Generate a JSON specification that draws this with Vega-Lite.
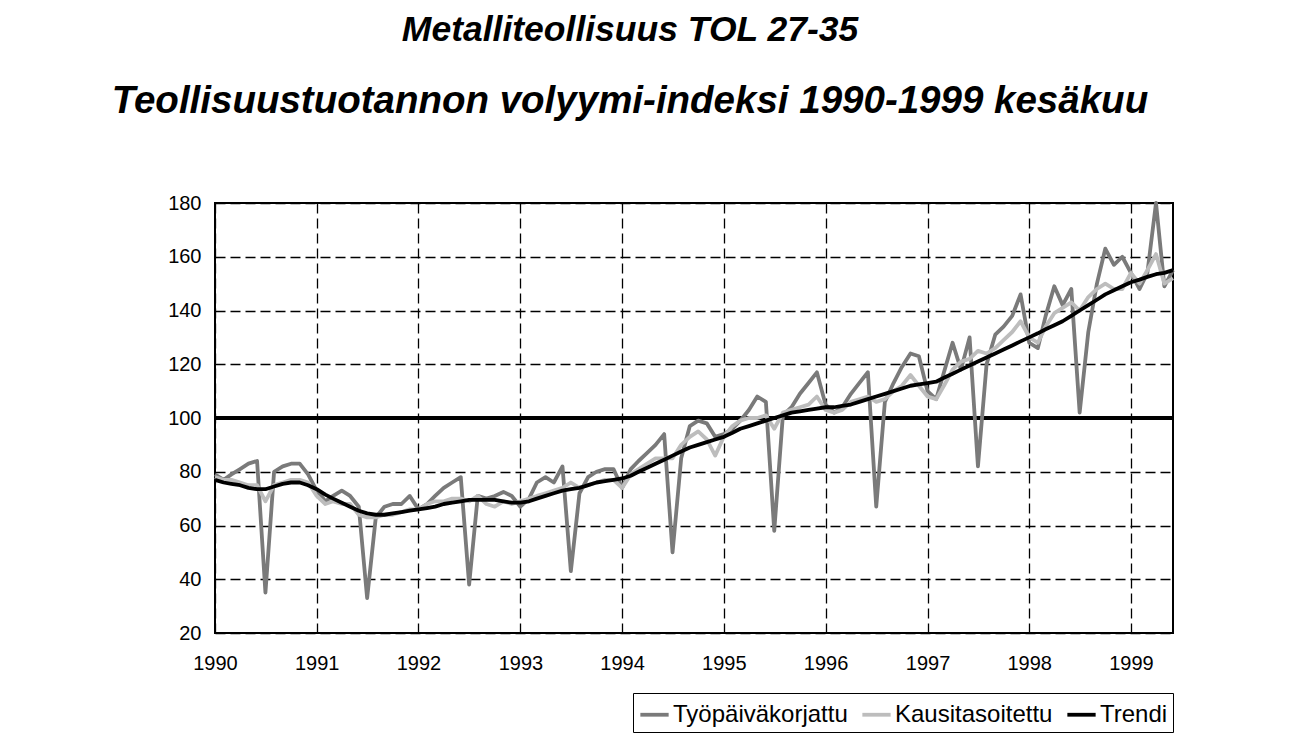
{
  "$schema": "https://vega.github.io/schema/vega-lite/v6.json",
  "width": 958,
  "height": 430,
  "autosize": {"type": "none"},
  "padding": {"left": 215, "top": 203, "right": 122, "bottom": 102},
  "background": "white",
  "title": {
    "text": "Metalliteollisuus TOL 27-35",
    "subtitle": "Teollisuustuotannon volyymi-indeksi 1990-1999 kesäkuu",
    "font": "Liberation Sans",
    "fontSize": 35.5,
    "fontWeight": "bold",
    "fontStyle": "italic",
    "subtitleFont": "Liberation Sans",
    "subtitleFontSize": 38.5,
    "subtitleFontWeight": "bold",
    "subtitleFontStyle": "italic",
    "subtitleColor": "black",
    "subtitlePadding": 34,
    "anchor": "middle",
    "dx": -64,
    "offset": 73,
    "color": "black"
  },
  "data": {
    "values": [
      {"kk": "1990-01", "Työpäiväkorjattu": 79, "Kausitasoitettu": 78, "Trendi": 77},
      {"kk": "1990-02", "Työpäiväkorjattu": 77, "Kausitasoitettu": 77, "Trendi": 76},
      {"kk": "1990-03", "Työpäiväkorjattu": 79, "Kausitasoitettu": 77, "Trendi": 75.5},
      {"kk": "1990-04", "Työpäiväkorjattu": 81, "Kausitasoitettu": 76, "Trendi": 75},
      {"kk": "1990-05", "Työpäiväkorjattu": 83, "Kausitasoitettu": 75, "Trendi": 74},
      {"kk": "1990-06", "Työpäiväkorjattu": 84, "Kausitasoitettu": 75, "Trendi": 73.5},
      {"kk": "1990-07", "Työpäiväkorjattu": 35, "Kausitasoitettu": 69, "Trendi": 73.5},
      {"kk": "1990-08", "Työpäiväkorjattu": 80, "Kausitasoitettu": 75, "Trendi": 74.5},
      {"kk": "1990-09", "Työpäiväkorjattu": 82, "Kausitasoitettu": 76, "Trendi": 75.5},
      {"kk": "1990-10", "Työpäiväkorjattu": 83, "Kausitasoitettu": 77, "Trendi": 76},
      {"kk": "1990-11", "Työpäiväkorjattu": 83, "Kausitasoitettu": 77, "Trendi": 76},
      {"kk": "1990-12", "Työpäiväkorjattu": 79, "Kausitasoitettu": 76, "Trendi": 75},
      {"kk": "1991-01", "Työpäiväkorjattu": 73, "Kausitasoitettu": 71, "Trendi": 73.5},
      {"kk": "1991-02", "Työpäiväkorjattu": 69, "Kausitasoitettu": 68, "Trendi": 71.5},
      {"kk": "1991-03", "Työpäiväkorjattu": 71, "Kausitasoitettu": 69, "Trendi": 70},
      {"kk": "1991-04", "Työpäiväkorjattu": 73, "Kausitasoitettu": 68, "Trendi": 68.5},
      {"kk": "1991-05", "Työpäiväkorjattu": 71, "Kausitasoitettu": 68, "Trendi": 67},
      {"kk": "1991-06", "Työpäiväkorjattu": 67, "Kausitasoitettu": 64, "Trendi": 65.5},
      {"kk": "1991-07", "Työpäiväkorjattu": 33, "Kausitasoitettu": 63, "Trendi": 64.5},
      {"kk": "1991-08", "Työpäiväkorjattu": 63, "Kausitasoitettu": 63, "Trendi": 64},
      {"kk": "1991-09", "Työpäiväkorjattu": 67, "Kausitasoitettu": 64, "Trendi": 64},
      {"kk": "1991-10", "Työpäiväkorjattu": 68, "Kausitasoitettu": 64, "Trendi": 64.5},
      {"kk": "1991-11", "Työpäiväkorjattu": 68, "Kausitasoitettu": 65, "Trendi": 65},
      {"kk": "1991-12", "Työpäiväkorjattu": 71, "Kausitasoitettu": 66, "Trendi": 65.5},
      {"kk": "1992-01", "Työpäiväkorjattu": 66, "Kausitasoitettu": 66, "Trendi": 66},
      {"kk": "1992-02", "Työpäiväkorjattu": 68, "Kausitasoitettu": 68, "Trendi": 66.5},
      {"kk": "1992-03", "Työpäiväkorjattu": 71, "Kausitasoitettu": 69, "Trendi": 67},
      {"kk": "1992-04", "Työpäiväkorjattu": 74, "Kausitasoitettu": 69, "Trendi": 68},
      {"kk": "1992-05", "Työpäiväkorjattu": 76, "Kausitasoitettu": 70, "Trendi": 68.5},
      {"kk": "1992-06", "Työpäiväkorjattu": 78, "Kausitasoitettu": 70, "Trendi": 69},
      {"kk": "1992-07", "Työpäiväkorjattu": 38, "Kausitasoitettu": 69, "Trendi": 69.5},
      {"kk": "1992-08", "Työpäiväkorjattu": 71, "Kausitasoitettu": 71, "Trendi": 69.5},
      {"kk": "1992-09", "Työpäiväkorjattu": 70, "Kausitasoitettu": 68, "Trendi": 69.5},
      {"kk": "1992-10", "Työpäiväkorjattu": 71, "Kausitasoitettu": 67, "Trendi": 69.5},
      {"kk": "1992-11", "Työpäiväkorjattu": 72.5, "Kausitasoitettu": 69, "Trendi": 69},
      {"kk": "1992-12", "Työpäiväkorjattu": 71, "Kausitasoitettu": 68, "Trendi": 68.5},
      {"kk": "1993-01", "Työpäiväkorjattu": 67, "Kausitasoitettu": 69, "Trendi": 68.5},
      {"kk": "1993-02", "Työpäiväkorjattu": 70, "Kausitasoitettu": 70, "Trendi": 69},
      {"kk": "1993-03", "Työpäiväkorjattu": 76, "Kausitasoitettu": 71, "Trendi": 70},
      {"kk": "1993-04", "Työpäiväkorjattu": 78, "Kausitasoitettu": 72, "Trendi": 71},
      {"kk": "1993-05", "Työpäiväkorjattu": 76, "Kausitasoitettu": 73, "Trendi": 72},
      {"kk": "1993-06", "Työpäiväkorjattu": 82, "Kausitasoitettu": 74, "Trendi": 73},
      {"kk": "1993-07", "Työpäiväkorjattu": 43, "Kausitasoitettu": 76, "Trendi": 73.5},
      {"kk": "1993-08", "Työpäiväkorjattu": 72, "Kausitasoitettu": 74, "Trendi": 74},
      {"kk": "1993-09", "Työpäiväkorjattu": 78, "Kausitasoitettu": 75, "Trendi": 75},
      {"kk": "1993-10", "Työpäiväkorjattu": 80, "Kausitasoitettu": 76, "Trendi": 76},
      {"kk": "1993-11", "Työpäiväkorjattu": 81, "Kausitasoitettu": 77, "Trendi": 76.5},
      {"kk": "1993-12", "Työpäiväkorjattu": 81, "Kausitasoitettu": 77, "Trendi": 77},
      {"kk": "1994-01", "Työpäiväkorjattu": 74, "Kausitasoitettu": 74, "Trendi": 77.5},
      {"kk": "1994-02", "Työpäiväkorjattu": 81, "Kausitasoitettu": 79, "Trendi": 78.5},
      {"kk": "1994-03", "Työpäiväkorjattu": 84, "Kausitasoitettu": 81, "Trendi": 80},
      {"kk": "1994-04", "Työpäiväkorjattu": 87, "Kausitasoitettu": 83, "Trendi": 81.5},
      {"kk": "1994-05", "Työpäiväkorjattu": 90, "Kausitasoitettu": 85, "Trendi": 83},
      {"kk": "1994-06", "Työpäiväkorjattu": 94, "Kausitasoitettu": 85, "Trendi": 84.5},
      {"kk": "1994-07", "Työpäiväkorjattu": 50, "Kausitasoitettu": 85, "Trendi": 86},
      {"kk": "1994-08", "Työpäiväkorjattu": 85, "Kausitasoitettu": 90, "Trendi": 87.5},
      {"kk": "1994-09", "Työpäiväkorjattu": 97, "Kausitasoitettu": 93, "Trendi": 89},
      {"kk": "1994-10", "Työpäiväkorjattu": 99, "Kausitasoitettu": 95, "Trendi": 90},
      {"kk": "1994-11", "Työpäiväkorjattu": 98, "Kausitasoitettu": 92, "Trendi": 91},
      {"kk": "1994-12", "Työpäiväkorjattu": 93, "Kausitasoitettu": 86, "Trendi": 92},
      {"kk": "1995-01", "Työpäiväkorjattu": 94, "Kausitasoitettu": 93, "Trendi": 93},
      {"kk": "1995-02", "Työpäiväkorjattu": 96, "Kausitasoitettu": 97, "Trendi": 94.5},
      {"kk": "1995-03", "Työpäiväkorjattu": 99, "Kausitasoitettu": 99, "Trendi": 96},
      {"kk": "1995-04", "Työpäiväkorjattu": 103, "Kausitasoitettu": 100, "Trendi": 97},
      {"kk": "1995-05", "Työpäiväkorjattu": 108, "Kausitasoitettu": 100, "Trendi": 98},
      {"kk": "1995-06", "Työpäiväkorjattu": 106, "Kausitasoitettu": 101, "Trendi": 99},
      {"kk": "1995-07", "Työpäiväkorjattu": 58, "Kausitasoitettu": 96, "Trendi": 100},
      {"kk": "1995-08", "Työpäiväkorjattu": 101, "Kausitasoitettu": 102, "Trendi": 101},
      {"kk": "1995-09", "Työpäiväkorjattu": 104, "Kausitasoitettu": 103, "Trendi": 102},
      {"kk": "1995-10", "Työpäiväkorjattu": 109, "Kausitasoitettu": 104, "Trendi": 102.5},
      {"kk": "1995-11", "Työpäiväkorjattu": 113, "Kausitasoitettu": 105, "Trendi": 103},
      {"kk": "1995-12", "Työpäiväkorjattu": 117, "Kausitasoitettu": 108, "Trendi": 103.5},
      {"kk": "1996-01", "Työpäiväkorjattu": 105, "Kausitasoitettu": 103, "Trendi": 104},
      {"kk": "1996-02", "Työpäiväkorjattu": 102, "Kausitasoitettu": 102, "Trendi": 104},
      {"kk": "1996-03", "Työpäiväkorjattu": 104, "Kausitasoitettu": 103, "Trendi": 104.5},
      {"kk": "1996-04", "Työpäiväkorjattu": 109, "Kausitasoitettu": 106, "Trendi": 105},
      {"kk": "1996-05", "Työpäiväkorjattu": 113, "Kausitasoitettu": 107, "Trendi": 106},
      {"kk": "1996-06", "Työpäiväkorjattu": 117, "Kausitasoitettu": 108, "Trendi": 107},
      {"kk": "1996-07", "Työpäiväkorjattu": 67, "Kausitasoitettu": 106, "Trendi": 108},
      {"kk": "1996-08", "Työpäiväkorjattu": 106, "Kausitasoitettu": 107, "Trendi": 109},
      {"kk": "1996-09", "Työpäiväkorjattu": 113, "Kausitasoitettu": 110, "Trendi": 110},
      {"kk": "1996-10", "Työpäiväkorjattu": 119, "Kausitasoitettu": 112, "Trendi": 111},
      {"kk": "1996-11", "Työpäiväkorjattu": 124, "Kausitasoitettu": 116, "Trendi": 112},
      {"kk": "1996-12", "Työpäiväkorjattu": 123, "Kausitasoitettu": 112, "Trendi": 112.5},
      {"kk": "1997-01", "Työpäiväkorjattu": 110, "Kausitasoitettu": 108, "Trendi": 113},
      {"kk": "1997-02", "Työpäiväkorjattu": 107, "Kausitasoitettu": 107, "Trendi": 113.5},
      {"kk": "1997-03", "Työpäiväkorjattu": 117, "Kausitasoitettu": 112, "Trendi": 115},
      {"kk": "1997-04", "Työpäiväkorjattu": 128, "Kausitasoitettu": 118, "Trendi": 116.5},
      {"kk": "1997-05", "Työpäiväkorjattu": 118, "Kausitasoitettu": 121, "Trendi": 118},
      {"kk": "1997-06", "Työpäiväkorjattu": 130, "Kausitasoitettu": 122, "Trendi": 119.5},
      {"kk": "1997-07", "Työpäiväkorjattu": 82, "Kausitasoitettu": 125, "Trendi": 121},
      {"kk": "1997-08", "Työpäiväkorjattu": 120, "Kausitasoitettu": 124, "Trendi": 122.5},
      {"kk": "1997-09", "Työpäiväkorjattu": 131, "Kausitasoitettu": 126, "Trendi": 124},
      {"kk": "1997-10", "Työpäiväkorjattu": 134, "Kausitasoitettu": 129, "Trendi": 125.5},
      {"kk": "1997-11", "Työpäiväkorjattu": 138, "Kausitasoitettu": 132, "Trendi": 127},
      {"kk": "1997-12", "Työpäiväkorjattu": 146, "Kausitasoitettu": 136, "Trendi": 128.5},
      {"kk": "1998-01", "Työpäiväkorjattu": 128, "Kausitasoitettu": 130, "Trendi": 130},
      {"kk": "1998-02", "Työpäiväkorjattu": 126, "Kausitasoitettu": 128, "Trendi": 131.5},
      {"kk": "1998-03", "Työpäiväkorjattu": 138, "Kausitasoitettu": 134, "Trendi": 133},
      {"kk": "1998-04", "Työpäiväkorjattu": 149, "Kausitasoitettu": 139, "Trendi": 134.5},
      {"kk": "1998-05", "Työpäiväkorjattu": 142, "Kausitasoitettu": 141, "Trendi": 136},
      {"kk": "1998-06", "Työpäiväkorjattu": 148, "Kausitasoitettu": 143, "Trendi": 138},
      {"kk": "1998-07", "Työpäiväkorjattu": 102, "Kausitasoitettu": 140, "Trendi": 140},
      {"kk": "1998-08", "Työpäiväkorjattu": 132, "Kausitasoitettu": 145, "Trendi": 142},
      {"kk": "1998-09", "Työpäiväkorjattu": 150, "Kausitasoitettu": 148, "Trendi": 144},
      {"kk": "1998-10", "Työpäiväkorjattu": 163, "Kausitasoitettu": 150, "Trendi": 146},
      {"kk": "1998-11", "Työpäiväkorjattu": 157, "Kausitasoitettu": 148, "Trendi": 147.5},
      {"kk": "1998-12", "Työpäiväkorjattu": 160, "Kausitasoitettu": 148, "Trendi": 149},
      {"kk": "1999-01", "Työpäiväkorjattu": 154, "Kausitasoitettu": 154, "Trendi": 150.5},
      {"kk": "1999-02", "Työpäiväkorjattu": 148, "Kausitasoitettu": 150, "Trendi": 151.5},
      {"kk": "1999-03", "Työpäiväkorjattu": 154, "Kausitasoitettu": 155, "Trendi": 152.5},
      {"kk": "1999-04", "Työpäiväkorjattu": 180, "Kausitasoitettu": 161, "Trendi": 153.5},
      {"kk": "1999-05", "Työpäiväkorjattu": 149, "Kausitasoitettu": 150, "Trendi": 154},
      {"kk": "1999-06", "Työpäiväkorjattu": 155, "Kausitasoitettu": 152, "Trendi": 155}
    ]
  },
  "transform": [
    {"fold": ["Työpäiväkorjattu", "Kausitasoitettu", "Trendi"], "as": ["sarja", "arvo"]}
  ],
  "layer": [
    {
      "mark": {"type": "rule", "color": "black", "strokeWidth": 3},
      "encoding": {"y": {"datum": 100, "type": "quantitative"}}
    },
    {
      "mark": {"type": "line", "strokeWidth": 3.8, "strokeJoin": "round"},
      "encoding": {
        "x": {
          "field": "kk",
          "type": "temporal",
          "scale": {
            "type": "utc",
            "domain": [
              {"year": 1990, "month": 1, "date": 1, "utc": true},
              {"year": 1999, "month": 6, "date": 1, "utc": true}
            ]
          },
          "axis": {
            "title": null,
            "format": "%Y",
            "tickCount": {"interval": "year", "step": 1},
            "grid": true,
            "gridDash": [10, 5],
            "gridColor": "black",
            "gridWidth": 1.3,
            "gridOpacity": 1,
            "domain": false,
            "ticks": false,
            "labelFont": "Liberation Sans",
            "labelFontSize": 20,
            "labelColor": "black",
            "labelPadding": 20,
            "labelFlush": false,
            "labelOverlap": false
          }
        },
        "y": {
          "field": "arvo",
          "type": "quantitative",
          "scale": {"domain": [20, 180], "nice": false, "zero": false},
          "axis": {
            "title": null,
            "values": [20, 40, 60, 80, 100, 120, 140, 160, 180],
            "grid": true,
            "gridDash": [10, 5],
            "gridColor": "black",
            "gridWidth": 1.3,
            "gridOpacity": 1,
            "domain": false,
            "ticks": false,
            "labelFont": "Liberation Sans",
            "labelFontSize": 20,
            "labelColor": "black",
            "labelPadding": 14
          }
        },
        "color": {
          "field": "sarja",
          "type": "nominal",
          "scale": {
            "domain": ["Työpäiväkorjattu", "Kausitasoitettu", "Trendi"],
            "range": ["#7a7a7a", "#bdbdbd", "#000000"]
          },
          "legend": {
            "title": null,
            "orient": "none",
            "legendX": 418,
            "legendY": 490,
            "direction": "horizontal",
            "symbolType": "stroke",
            "symbolStrokeWidth": 3.8,
            "symbolSize": 800,
            "labelFont": "Liberation Sans",
            "labelFontSize": 24,
            "labelColor": "black",
            "labelLimit": 0,
            "strokeColor": "black",
            "padding": 5,
            "columnPadding": 6,
            "labelOffset": 2
          }
        }
      }
    }
  ],
  "config": {
    "view": {"stroke": "black", "strokeWidth": 2}
  }
}
